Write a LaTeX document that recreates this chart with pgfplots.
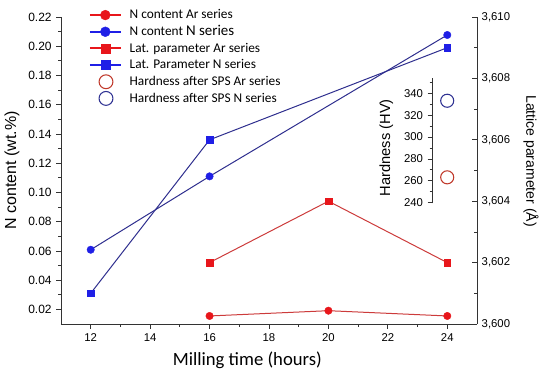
\documentclass[border=0pt]{standalone}
\usepackage{pgfplots}
\pgfplotsset{compat=1.18}
\usepackage{fontspec}
\setmainfont{Liberation Sans}
\newfontfamily\calfont{Carlito}
\definecolor{redm}{HTML}{E8161B}
\definecolor{redl}{HTML}{CC3B3B}
\definecolor{bluem}{HTML}{1F1FE6}
\definecolor{bluel}{HTML}{2E2E8E}
\definecolor{hred}{HTML}{C0392B}
\definecolor{hblue}{HTML}{2E3192}
\definecolor{axc}{HTML}{333333}
\pgfplotsset{
  common/.style={
    scale only axis, clip=false,
    axis line style={axc, line width=0.6pt, -},
    tick style={axc, line width=0.6pt},
    major tick length=3.5pt, minor tick length=2pt,
    /pgf/number format/assume math mode=true,
  }
}
\begin{document}
\begin{tikzpicture}
\path[use as bounding box] (-45.75pt,-36pt) rectangle (366.75pt,243pt);
% main axis: N content
\begin{axis}[common,
  at={(0pt,0pt)}, anchor=south west,
  width=312pt, height=230.25pt,
  xmin=11, xmax=25, ymin=0.01, ymax=0.22,
  axis x line*=bottom, axis y line*=left,
  tick align=outside,
  xtick={12,14,16,18,20,22,24}, minor xtick={13,15,17,19,21,23},
  ytick={0.02,0.04,0.06,0.08,0.10,0.12,0.14,0.16,0.18,0.20,0.22},
  minor ytick={0.03,0.05,0.07,0.09,0.11,0.13,0.15,0.17,0.19,0.21},
  yticklabel style={font=\fontsize{9}{10}\selectfont, /pgf/number format/fixed, /pgf/number format/fixed zerofill, /pgf/number format/precision=2},
  xticklabel style={font=\fontsize{8.5}{10}\selectfont},
  xlabel={Milling time (hours)},
  xlabel style={font=\calfont\fontsize{14}{16}\selectfont, at={(axis description cs:0.448,-0.1368)}, anchor=base, inner sep=0pt},
  ylabel={N content (wt.\%)},
  ylabel style={font=\fontsize{12}{14}\selectfont, at={(axis description cs:-0.1178,0.5)}, anchor=center, inner sep=0pt},
  legend cell align=left,
  legend style={at={(axis description cs:0.0673,1.0334)}, anchor=north west, draw=none, fill=none,
    inner sep=0pt, outer sep=0pt, row sep=0pt, column sep=6pt,
    font=\calfont\fontsize{10}{12}\selectfont, nodes={inner sep=0pt}},
  legend image code/.code={\path[draw=none, fill=none] (0pt,-6.25pt) rectangle (23pt,6.25pt);
    \draw[mark repeat=2,mark phase=2,#1] plot coordinates {(0pt,0pt) (11.5pt,0pt) (23pt,0pt)};},
]
\addplot[forget plot, redl, line width=0.75pt, mark=*, mark size=2.8pt, mark options={fill=redm, draw=redm, line width=0.3pt}]
  coordinates {(16,0.0155) (20,0.0191) (24,0.0155)};
\addplot[forget plot, bluel, line width=0.75pt, mark=*, mark size=2.8pt, mark options={fill=bluem, draw=bluem, line width=0.3pt}]
  coordinates {(12,0.0608) (16,0.111) (24,0.2077)};
\addlegendimage{redm, line width=1.5pt, mark=*, mark size=3.7pt, mark options={line width=0.3pt, fill=redm}}
\addlegendentry{N content Ar series}
\addlegendimage{bluem, line width=1.5pt, mark=*, mark size=3.7pt, mark options={line width=0.3pt, fill=bluem}}
\addlegendentry{N content {\fontsize{11.2}{12}\selectfont N series}}
\addlegendimage{redm, line width=1.5pt, mark=square*, mark size=3.3pt, mark options={line width=0.3pt, fill=redm}}
\addlegendentry{Lat. parameter Ar series}
\addlegendimage{bluem, line width=1.5pt, mark=square*, mark size=3.3pt, mark options={line width=0.3pt, fill=bluem}}
\addlegendentry{Lat. Parameter N series}
\addlegendimage{legend image code/.code={\path[draw=none, fill=none] (0pt,-6.25pt) rectangle (23pt,6.25pt);
    \draw[hred, fill=none, line width=0.8pt] (12pt,0pt) circle (5.2pt);}}
\addlegendentry{Hardness after SPS Ar series}
\addlegendimage{legend image code/.code={\path[draw=none, fill=none] (0pt,-6.25pt) rectangle (23pt,6.25pt);
    \draw[hblue, fill=none, line width=0.8pt] (12pt,0pt) circle (5.2pt);}}
\addlegendentry{Hardness after SPS N series}
\end{axis}
% right axis: lattice parameter
\begin{axis}[common,
  at={(0pt,0pt)}, anchor=south west,
  width=312pt, height=230.25pt,
  xmin=11, xmax=25, ymin=3.600, ymax=3.610,
  axis x line=none, axis y line*=right,
  tick align=inside,
  ytick={3.600,3.602,3.604,3.606,3.608,3.610},
  minor ytick={3.601,3.603,3.605,3.607,3.609},
  scaled y ticks=false,
  yticklabel style={font=\fontsize{8.5}{10}\selectfont, /pgf/number format/fixed, /pgf/number format/fixed zerofill, /pgf/number format/precision=3, /pgf/number format/use comma},
  ylabel={Lattice parameter (Å)},
  ylabel style={font=\fontsize{10.5}{12}\selectfont, at={(axis description cs:1.1298,0.531)}, anchor=center, rotate=180, inner sep=0pt},
]
\addplot[redl, line width=0.75pt, mark=square*, mark size=2.5pt, mark options={fill=redm, draw=redm, line width=0.3pt}]
  coordinates {(16,3.602) (20,3.604) (24,3.602)};
\addplot[bluel, line width=0.75pt, mark=square*, mark size=2.5pt, mark options={fill=bluem, draw=bluem, line width=0.3pt}]
  coordinates {(12,3.601) (16,3.606) (24,3.609)};
\end{axis}
% inset axis: hardness
\begin{axis}[common,
  at={(278.5pt,90.4pt)}, anchor=south west,
  width=22.3pt, height=94.35pt,
  xmin=23.5, xmax=24.5, ymin=239.3, ymax=354.3,
  axis x line=none, axis y line*=left,
  tick align=outside,
  ytick={240,260,280,300,320,340},
  minor ytick={250,270,290,310,330,350},
  yticklabel style={font=\fontsize{8.5}{10}\selectfont},
  ylabel={Hardness (HV)},
  ylabel style={font=\fontsize{11}{13}\selectfont, at={(axis description cs:-1.547,0.443)}, anchor=center, inner sep=0pt},
]
\addplot[only marks, mark=o, mark size=4.9pt, hred, mark options={line width=0.8pt}] coordinates {(24,263.2)};
\addplot[only marks, mark=o, mark size=4.9pt, hblue, mark options={line width=0.8pt}] coordinates {(24,333.2)};
\end{axis}
\end{tikzpicture}
\end{document}
